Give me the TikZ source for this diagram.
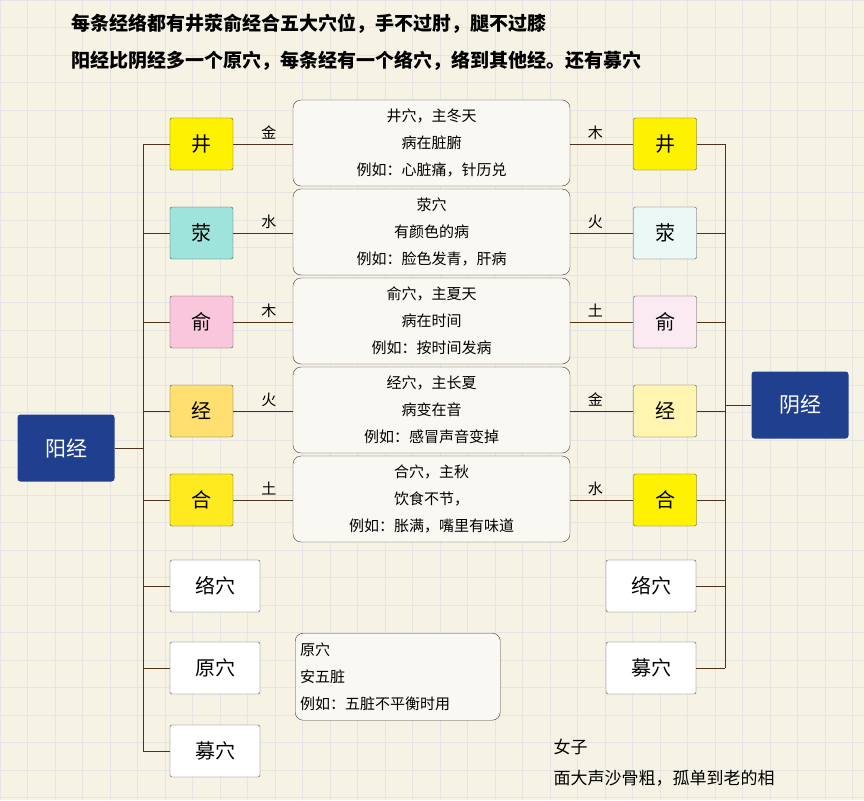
\documentclass[tikz,border=0pt]{standalone}
\usepackage{fontspec}
\setmainfont{Noto Sans CJK SC}
\begin{document}
\begin{tikzpicture}[x=1pt,y=-1pt,
  ln/.style={draw=black!60!brown,line width=0.8pt},
  sb/.style={draw=black!70,rounded corners=2pt,minimum width=63pt,minimum height=52pt,font=\fontsize{20}{20}\selectfont,inner sep=0pt},
  wb/.style={sb,fill=white,minimum width=90pt},
  cb/.style={draw=black!75,fill=white!50!bgc,rounded corners=8pt,minimum width=277pt,minimum height=86pt,align=center,font=\fontsize{15}{27}\selectfont,inner sep=0pt},
  el/.style={font=\fontsize{15}{15}\selectfont},
  big/.style={fill=bl,rounded corners=3pt,minimum width=97pt,minimum height=67pt,text=white,font=\fontsize{21}{21}\selectfont}]
\definecolor{bgc}{HTML}{F6F2E4}
\definecolor{bl}{HTML}{213F8F}
\useasboundingbox (0,0) rectangle (864,800);
\fill[bgc] (0,0) rectangle (864,800);
\foreach \i in {0,...,31}{\draw[black!10] (\i*27.5,0) -- (\i*27.5,800);}
\foreach \i in {0,...,29}{\draw[black!10] (0,\i*27.5) -- (864,\i*27.5);}
\node[font=\fontsize{19}{19}\selectfont\bfseries,anchor=west] (t1) at (68,24) {每条经络都有井荥俞经合五大穴位，手不过肘，腿不过膝};
\node[font=\fontsize{19}{19}\selectfont\bfseries,anchor=west] (t2) at (68,61) {阳经比阴经多一个原穴，每条经有一个络穴，络到其他经。还有募穴};
\node[big] (yang) at (66,448) {阳经};
\node[big] (yin) at (800,405) {阴经};
\foreach \n/\t/\y/\lc/\rc/\le/\re/\tx in {
 a/井/144/FFF200/FFF200/金/木/{井穴，主冬天\\病在脏腑\\例如：心脏痛，针历兑},
 b/荥/233/9EE3DC/ECF8F6/水/火/{荥穴\\有颜色的病\\例如：脸色发青，肝病},
 c/俞/322/F9C6DC/FBEAF2/木/土/{俞穴，主夏天\\病在时间\\例如：按时间发病},
 d/经/411/FFDF70/FFF4B0/火/金/{经穴，主长夏\\病变在音\\例如：感冒声音变掉},
 e/合/500/FFEA20/FFF200/土/水/{合穴，主秋\\饮食不节，\\例如：胀满，嘴里有味道}}{
 \definecolor{lcc}{HTML}{\lc}\definecolor{rcc}{HTML}{\rc}
 \node[sb,fill=lcc] (L\n) at (201.5,\y) {\t};
 \node[sb,fill=rcc] (R\n) at (665,\y) {\t};
 \node[cb] (C\n) at (431.5,\y-1) {\tx};
 \draw[ln] (L\n.east) -- (C\n.west |- L\n.east) node[pos=0.6,above=1pt,el,text=black] {\le};
 \draw[ln] (C\n.east |- R\n.west) -- (R\n.west) node[pos=0.4,above=1pt,el,text=black] {\re};
}
\node[wb,minimum width=90pt] (Lf) at (215,586) {络穴};
\node[wb] (Lg) at (215,668) {原穴};
\node[wb] (Lh) at (215,751) {募穴};
\node[wb] (Rf) at (651,586) {络穴};
\node[wb] (Rh) at (651,668) {募穴};
\node[cb,minimum width=0pt,minimum height=87pt,align=left,text width=195pt,anchor=north west,inner xsep=5pt] (yuan) at (295,633) {原穴\\安五脏\\例如：五脏不平衡时用};
\coordinate (lt) at (143,144); \coordinate (lb) at (143,751);
\coordinate (rt) at (725,144); \coordinate (rb) at (725,668);
\draw[ln] (lt) -- (lb);
\draw[ln] (rt) -- (rb);
\foreach \n in {a,b,c,d,e}{\draw[ln] (L\n.west) -- (lt |- L\n.west); \draw[ln] (R\n.east) -- (rt |- R\n.east);}
\foreach \n in {Lf,Lg,Lh}{\draw[ln] (\n.west) -- (lt |- \n.west);}
\foreach \n in {Rf,Rh}{\draw[ln] (\n.east) -- (rt |- \n.east);}
\draw[ln] (yang.east) -- (lt |- yang.east);
\draw[ln] (yin.west) -- (rt |- yin.west);
\node[anchor=west,font=\fontsize{17}{17}\selectfont] (n1) at (550,747) {女子};
\node[anchor=west,font=\fontsize{17}{17}\selectfont] (n2) at (550,778) {面大声沙骨粗，孤单到老的相};
\end{tikzpicture}
\end{document}
